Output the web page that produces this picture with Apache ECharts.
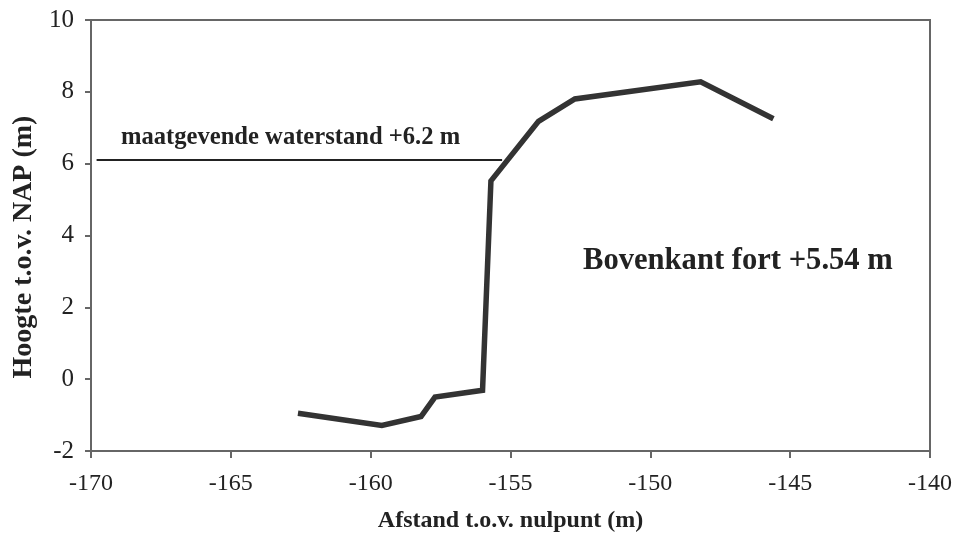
<!DOCTYPE html>
<html>
<head>
<meta charset="utf-8">
<script src="https://cdn.jsdelivr.net/npm/echarts@6/dist/echarts.min.js"></script>
<style>html,body{margin:0;padding:0;background:#fff;}#c{width:958px;height:538px;}</style>
</head>
<body>
<div id="c"></div>
<script>
// Profile data (distance from zero point, height vs NAP)
const afstand = [-162.6, -159.6, -158.2, -157.7, -156.0, -155.7, -154.0, -152.7, -148.2, -145.6];
const hoogte  = [-0.95, -1.29, -1.04, -0.50, -0.31, 5.52, 7.18, 7.80, 8.28, 7.25];
// Design water level line
const waterX = [-169.8, -155.3];
const waterY = [6.1, 6.1];
const xTicks = [-170, -165, -160, -155, -150, -145, -140];
const yTicks = [-2, 0, 2, 4, 6, 8, 10];
const xTitle = 'Afstand t.o.v. nulpunt (m)';
const yTitle = 'Hoogte t.o.v. NAP (m)';
const waterLabel = 'maatgevende waterstand +6.2 m';
const fortLabel = 'Bovenkant fort +5.54 m';

const chart = echarts.init(document.getElementById('c'));
const serif = '"Liberation Serif", "Times New Roman", serif';
chart.setOption({
  animation: false,
  backgroundColor: '#fff',
  grid: { left: 91, right: 28, top: 20, bottom: 87, show: true, borderColor: '#666', borderWidth: 2, backgroundColor: 'transparent' },
  xAxis: {
    type: 'value', min: xTicks[0], max: xTicks[xTicks.length - 1], interval: 5,
    axisLine: { show: true, onZero: false, lineStyle: { color: '#666', width: 2 } },
    axisTick: { show: true, inside: false, length: 7, lineStyle: { color: '#666', width: 2 } },
    splitLine: { show: false },
    axisLabel: { color: '#222', fontFamily: serif, fontSize: 24, margin: 21 },
    name: xTitle, nameLocation: 'middle', nameGap: 58,
    nameTextStyle: { color: '#222', fontFamily: serif, fontWeight: 'bold', fontSize: 24 }
  },
  yAxis: {
    type: 'value', min: yTicks[0], max: yTicks[yTicks.length - 1], interval: 2,
    axisLine: { show: true, onZero: false, lineStyle: { color: '#666', width: 2 } },
    axisTick: { show: true, inside: false, length: 6, lineStyle: { color: '#666', width: 2 } },
    splitLine: { show: false },
    axisLabel: { color: '#222', fontFamily: serif, fontSize: 25, margin: 17 }
  },
  series: [
    {
      type: 'line', data: waterX.map((x, i) => [x, waterY[i]]),
      symbol: 'none', lineStyle: { color: '#222', width: 2 }, z: 2
    },
    {
      type: 'line', data: afstand.map((x, i) => [x, hoogte[i]]),
      symbol: 'none', lineStyle: { color: '#333', width: 5.5, join: 'miter' }, z: 3
    }
  ],
  graphic: [
    { type: 'text', x: 24, y: 247, rotation: Math.PI / 2,
      style: { text: yTitle, font: 'bold 28px ' + serif, fill: '#222', textAlign: 'center', textVerticalAlign: 'middle' } },
    { type: 'text', left: 121, top: 125, style: { text: waterLabel, font: 'bold 24.6px ' + serif, fill: '#222' } },
    { type: 'text', left: 583, top: 246, style: { text: fortLabel, font: 'bold 30.6px ' + serif, fill: '#222' } }
  ]
});
</script>
</body>
</html>
